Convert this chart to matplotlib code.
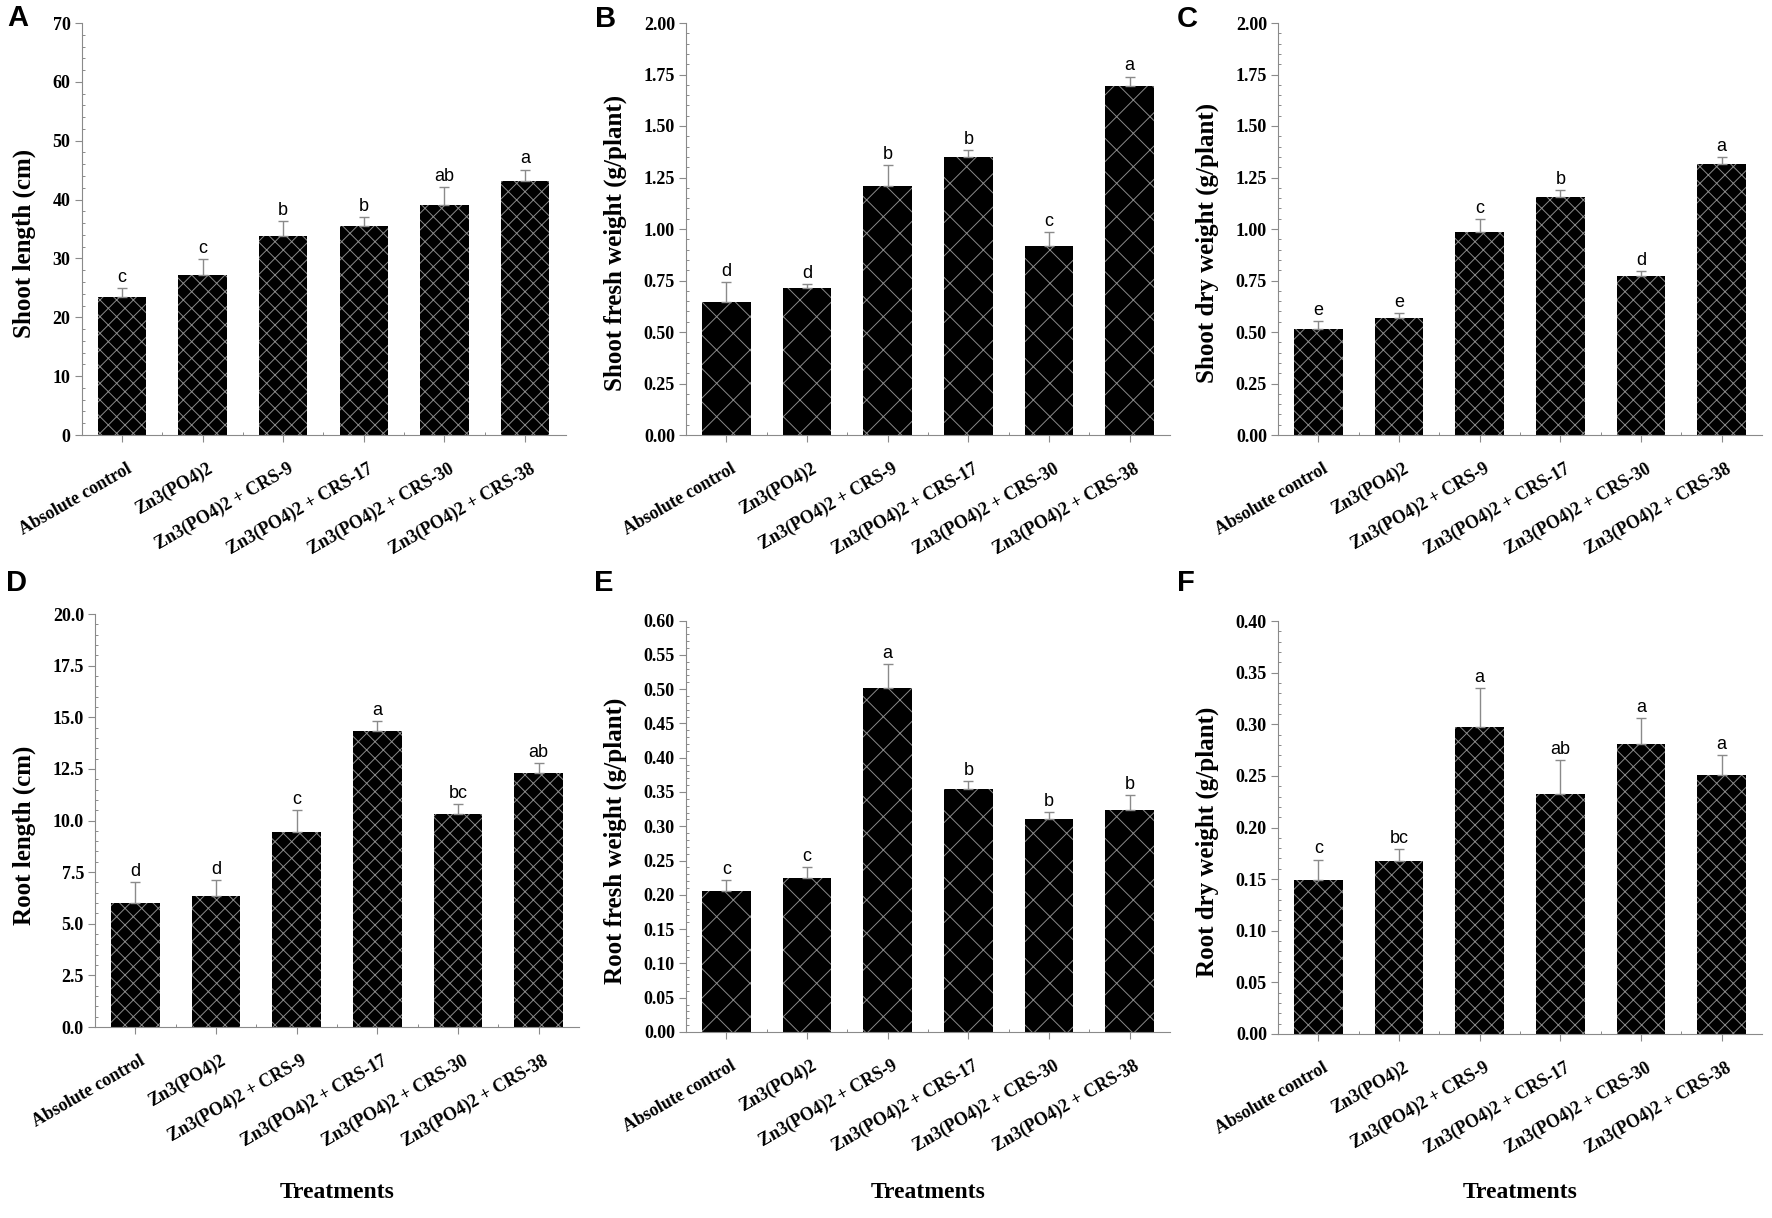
import numpy as np
import matplotlib
matplotlib.use("Agg")
import matplotlib.pyplot as plt
from matplotlib.ticker import MultipleLocator, FormatStrFormatter
import matplotlib.transforms as mtransforms

treatments = ["Absolute control", "Zn3(PO4)2", "Zn3(PO4)2 + CRS-9",
              "Zn3(PO4)2 + CRS-17", "Zn3(PO4)2 + CRS-30", "Zn3(PO4)2 + CRS-38"]

shoot_len = [23.5, 27.1, 33.8, 35.5, 39.1, 43.1]
shoot_len_err = [1.5, 2.8, 2.5, 1.5, 3.1, 2.0]
shoot_len_grp = ["c", "c", "b", "b", "ab", "a"]

shoot_fw = [0.647, 0.716, 1.209, 1.348, 0.919, 1.695]
shoot_fw_err = [0.094, 0.018, 0.10, 0.036, 0.065, 0.045]
shoot_fw_grp = ["d", "d", "b", "b", "c", "a"]

shoot_dw = [0.515, 0.569, 0.985, 1.155, 0.772, 1.314]
shoot_dw_err = [0.040, 0.021, 0.064, 0.035, 0.025, 0.037]
shoot_dw_grp = ["e", "e", "c", "b", "d", "a"]

root_len = [6.02, 6.34, 9.43, 14.35, 10.30, 12.28]
root_len_err = [1.02, 0.76, 1.09, 0.45, 0.50, 0.52]
root_len_grp = ["d", "d", "c", "a", "bc", "ab"]

root_fw = [0.205, 0.225, 0.501, 0.354, 0.311, 0.324]
root_fw_err = [0.017, 0.015, 0.035, 0.012, 0.010, 0.022]
root_fw_grp = ["c", "c", "a", "b", "b", "b"]

root_dw = [0.149, 0.1675, 0.2976, 0.232, 0.2805, 0.2505]
root_dw_err = [0.020, 0.0115, 0.0374, 0.0336, 0.0258, 0.0197]
root_dw_grp = ["c", "bc", "a", "ab", "a", "a"]

W, H = 1772, 1218
SERIF = "Liberation Serif"
SANS = "Liberation Sans"
GRAY = "#8a8a8a"

plt.rcParams["hatch.linewidth"] = 0.7
plt.rcParams["hatch.color"] = GRAY

fig = plt.figure(figsize=(W / 100, H / 100), dpi=100)


def px_rect(left, top, bottom, width=484):
    return [left / W, 1 - bottom / H, width / W, (bottom - top) / H]


panels = [
    # letter, rect, values, err, groups, ylabel, ymax, major, minor, fmt, hatch, letter pos
    ("A", px_rect(81.5, 23, 435), shoot_len, shoot_len_err, shoot_len_grp,
     "Shoot length (cm)", 70, 10, 2, "%d", "xx", (7, 4)),
    ("B", px_rect(686, 23, 435), shoot_fw, shoot_fw_err, shoot_fw_grp,
     "Shoot fresh weight (g/plant)", 2.0, 0.25, 0.05, "%.2f", "x", (595, 5)),
    ("C", px_rect(1278, 23, 435), shoot_dw, shoot_dw_err, shoot_dw_grp,
     "Shoot dry weight (g/plant)", 2.0, 0.25, 0.05, "%.2f", "xx", (1177, 5)),
    ("D", px_rect(95, 614, 1027), root_len, root_len_err, root_len_grp,
     "Root length (cm)", 20.0, 2.5, 0.5, "%.1f", "xx", (6, 569)),
    ("E", px_rect(686, 620.5, 1032), root_fw, root_fw_err, root_fw_grp,
     "Root fresh weight (g/plant)", 0.60, 0.05, 0.01, "%.2f", "x", (594, 569)),
    ("F", px_rect(1278, 621, 1034), root_dw, root_dw_err, root_dw_grp,
     "Root dry weight (g/plant)", 0.40, 0.05, 0.01, "%.2f", "xx", (1177, 569)),
]

x = np.arange(len(treatments))

for i, (tag, rect, vals, err, grp, ylab, ymax, major, minor, fmt, hatch, lpos) in enumerate(panels):
    ax = fig.add_axes(rect)
    ax.bar(x, vals, width=0.6, color="black", edgecolor=GRAY, linewidth=0,
           hatch=hatch, zorder=2)
    ax.errorbar(x, vals, yerr=[np.zeros(len(vals)), err], fmt="none",
                ecolor=GRAY, elinewidth=1.0, capsize=3.5, capthick=1.0, zorder=3)
    for xi, v, e, g in zip(x, vals, err, grp):
        ax.annotate(g, (xi, v + e), xytext=(0, 1.5), textcoords="offset points",
                    ha="center", va="bottom", fontsize=13, family=SANS)

    ax.set_xlim(-0.5, 5.5)
    ax.set_ylim(0, ymax)
    ax.yaxis.set_major_locator(MultipleLocator(major))
    ax.yaxis.set_minor_locator(MultipleLocator(minor))
    ax.yaxis.set_major_formatter(FormatStrFormatter(fmt))
    ax.set_xticks(x)
    ax.set_xticks(x[:-1] + 0.5, minor=True)
    ax.set_xticklabels(treatments, rotation=30, ha="right", va="top",
                       rotation_mode="anchor", fontsize=13,
                       family=SERIF, fontweight="bold")
    for lab in ax.get_yticklabels():
        lab.set_family(SERIF)
        lab.set_fontweight("bold")
        lab.set_fontsize(13)

    for side in ["top", "right"]:
        ax.spines[side].set_visible(False)
    for side in ["left", "bottom"]:
        ax.spines[side].set_color(GRAY)
        ax.spines[side].set_linewidth(0.8)
    ax.tick_params(which="major", direction="out", length=5, width=0.8,
                   color=GRAY, pad=3)
    ax.tick_params(axis="x", which="major", pad=13)
    ax.tick_params(which="minor", direction="in", length=2.5, width=0.7,
                   color=GRAY)
    # nudge rotated labels slightly right of their ticks
    offset = mtransforms.ScaledTranslation(4 / 100, 0, fig.dpi_scale_trans)
    for lab in ax.get_xticklabels():
        lab.set_transform(lab.get_transform() + offset)

    ax.set_ylabel(ylab, family=SERIF, fontweight="bold", fontsize=18,
                  labelpad=12)
    ax.yaxis.label.set_y(0.465)

    fig.text(lpos[0] / W, 1 - lpos[1] / H, tag, ha="left", va="top",
             fontsize=21, fontweight="bold", family=SANS)

    if i >= 3:
        cx = rect[0] + rect[2] / 2
        fig.text(cx, 1 - 1192 / H, "Treatments", ha="center", va="center",
                 family=SERIF, fontweight="bold", fontsize=17)

fig.savefig("out.png", dpi=100)
